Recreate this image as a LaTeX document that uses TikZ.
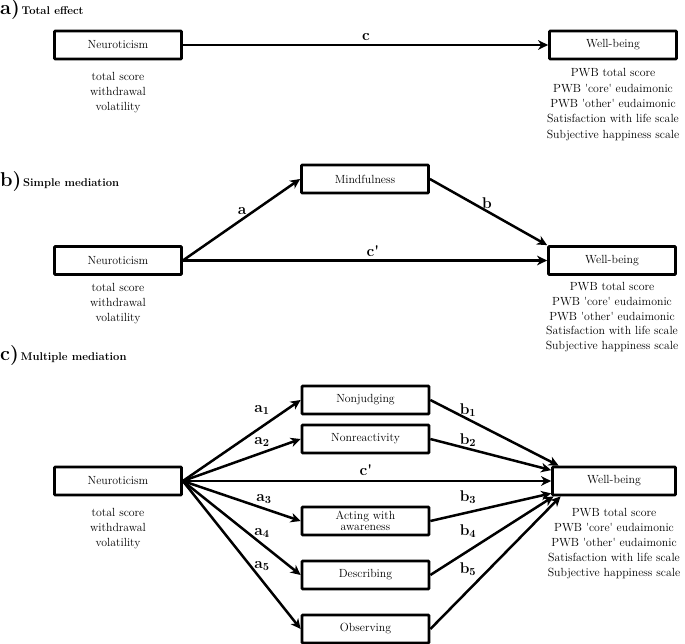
\documentclass[tikz,border=0pt]{standalone}
\usepackage{fontspec}
\usetikzlibrary{arrows.meta,calc}
\begin{document}
\begin{tikzpicture}[x=1pt,y=-1pt,
  box/.style={draw, line width=2.7pt, minimum width=127pt, minimum height=28pt, inner sep=0pt, align=center, font=\fontsize{11.8}{11.5}\selectfont, rounded corners=0.8pt},
  arr/.style={line width=2.5pt, -{Stealth[length=10pt,width=9.5pt,inset=3pt]}},
  lbl/.style={font=\fontsize{15.5}{15.5}\selectfont\bfseries, inner sep=0pt},
  info/.style={align=center, inner sep=0pt, anchor=north},
  ttl/.style={anchor=base west, inner sep=0pt}
]
\useasboundingbox (0,0) rectangle (685,644);

% ---------- titles
\node[ttl] (ta) at (0,15) {{\fontsize{20}{20}\selectfont\bfseries a)}\,{\fontsize{11.2}{12}\selectfont\bfseries Total effect}};
\node[ttl] (tb) at (0,186.5) {{\fontsize{20}{20}\selectfont\bfseries b)}\,{\fontsize{11.2}{12}\selectfont\bfseries Simple mediation}};
\node[ttl] (tc) at (0,360.5) {{\fontsize{20}{20}\selectfont\bfseries c)}\,{\fontsize{11.2}{12}\selectfont\bfseries Multiple mediation}};

% ---------- panel a
\node[box] (Na) at (118,45) {Neuroticism};
\node[box] (Wa) at (613,45) {Well-being};
\node[info, font=\fontsize{11.8}{15}\selectfont] (Nai) at (118,72.5) {total score\\withdrawal\\volatility};
\node[info, font=\fontsize{11.8}{15.3}\selectfont] (Wai) at (613,68.5) {PWB total score\\PWB \textquotesingle core\textquotesingle{} eudaimonic\\PWB \textquotesingle other\textquotesingle{} eudaimonic\\Satisfaction with life scale\\Subjective happiness scale};
\draw[arr] (Na) -- (Wa);
\node[lbl] (lc) at (366,37) {c};

% ---------- panel b
\node[box] (M) at (365,179) {Mindfulness};
\node[box] (Nb) at (118,260.5) {Neuroticism};
\node[box] (Wb) at (612,260.5) {Well-being};
\node[info, font=\fontsize{11.8}{14.6}\selectfont] (Nbi) at (118,283.5) {total score\\withdrawal\\volatility};
\node[info, font=\fontsize{11.8}{14.6}\selectfont] (Wbi) at (612,282.5) {PWB total score\\PWB \textquotesingle core\textquotesingle{} eudaimonic\\PWB \textquotesingle other\textquotesingle{} eudaimonic\\Satisfaction with life scale\\Subjective happiness scale};
\draw[arr] (Nb.east) -- (M.west);
\draw[arr] (M.east) -- (Wb.north west);
\draw[arr] (Nb) -- (Wb);
\node[lbl] (la) at (242,211) {a};
\node[lbl] (lb) at (487,203) {b};
\node[lbl] (lcp) at (373,251) {c\textquotesingle};

% ---------- panel c
\node[box] (Nc) at (118,481) {Neuroticism};
\node[box, minimum width=123pt] (Wc) at (614,481) {Well-being};
\node[info, font=\fontsize{11.8}{15}\selectfont] (Nci) at (118,508.5) {total score\\withdrawal\\volatility};
\node[info, font=\fontsize{11.8}{15}\selectfont] (Wci) at (614,508.5) {PWB total score\\PWB \textquotesingle core\textquotesingle{} eudaimonic\\PWB \textquotesingle other\textquotesingle{} eudaimonic\\Satisfaction with life scale\\Subjective happiness scale};

\node[box] (M1) at (365.5,400) {Nonjudging};
\node[box] (M2) at (365.5,439) {Nonreactivity};
\node[box] (M3) at (365.5,521) {Acting with\\awareness};
\node[box] (M4) at (365.5,575) {Describing};
\node[box] (M5) at (365.5,629) {Observing};

\draw[arr] (Nc.east) -- (M1.west);
\draw[arr] (Nc.east) -- (M2.west);
\draw[arr] (Nc.east) -- (M3.west);
\draw[arr] (Nc.east) -- (M4.west);
\draw[arr] (Nc.east) -- (M5.west);
\draw[arr] (Nc) -- (Wc);
\draw[arr] (M1.east) -- ($(Wc.north west)+(7.5,0)$);
\draw[arr] (M2.east) -- ($(Wc.north west)+(0,4.5)$);
\draw[arr] (M3.east) -- ($(Wc.south west)+(0,-3)$);
\draw[arr] (M4.east) -- ($(Wc.south west)+(2.5,0)$);
\draw[arr] (M5.east) -- ($(Wc.south west)+(9.5,0)$);

\node[lbl] (la1) at (262,410) {a\textsubscript{1}};
\node[lbl] (la2) at (262,442) {a\textsubscript{2}};
\node[lbl] (la3) at (264,499) {a\textsubscript{3}};
\node[lbl] (la4) at (262,533) {a\textsubscript{4}};
\node[lbl] (la5) at (262,566) {a\textsubscript{5}};
\node[lbl] (lb1) at (468,410) {b\textsubscript{1}};
\node[lbl] (lb2) at (468,440) {b\textsubscript{2}};
\node[lbl] (lb3) at (468,497) {b\textsubscript{3}};
\node[lbl] (lb4) at (468,531) {b\textsubscript{4}};
\node[lbl] (lb5) at (468,569) {b\textsubscript{5}};
\node[lbl] (lcp2) at (366,470) {c\textquotesingle};
\end{tikzpicture}
\end{document}
